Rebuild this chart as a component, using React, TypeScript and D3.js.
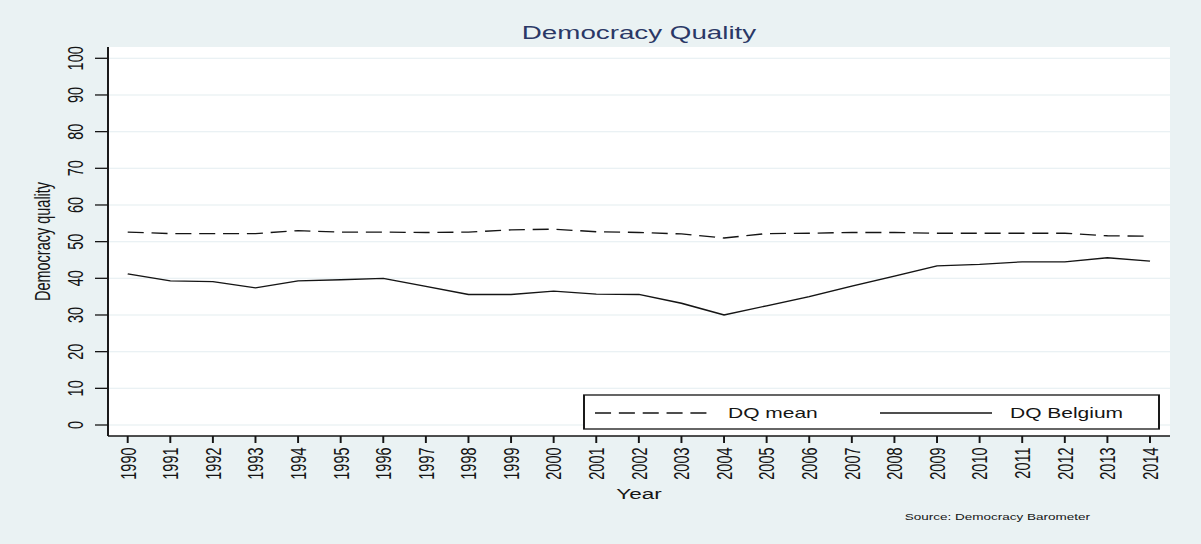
import React from 'react';
import * as d3 from 'd3';

// Democracy Barometer: overall democracy quality, 1990-2014
const years = [
  1990, 1991, 1992, 1993, 1994, 1995, 1996, 1997, 1998, 1999, 2000, 2001, 2002,
  2003, 2004, 2005, 2006, 2007, 2008, 2009, 2010, 2011, 2012, 2013, 2014,
];
const dqMean = [
  52.6, 52.2, 52.2, 52.2, 53.0, 52.6, 52.6, 52.5, 52.6, 53.2, 53.4, 52.7, 52.5,
  52.1, 51.0, 52.2, 52.3, 52.5, 52.5, 52.3, 52.3, 52.3, 52.3, 51.6, 51.5,
];
const dqBelgium = [
  41.2, 39.3, 39.1, 37.4, 39.3, 39.6, 40.0, 37.8, 35.6, 35.6, 36.5, 35.7, 35.6,
  33.2, 30.0, 32.5, 35.0, 37.9, 40.6, 43.4, 43.8, 44.5, 44.5, 45.6, 44.7,
];
const yTicks = [0, 10, 20, 30, 40, 50, 60, 70, 80, 90, 100];
const seriesLabels = ['DQ mean', 'DQ Belgium'];
const titleText = 'Democracy Quality';
const yTitle = 'Democracy quality';
const xTitle = 'Year';
const noteText = 'Source: Democracy Barometer';

// The graph is laid out on a narrower canvas and stretched horizontally.
const W = 1201;
const H = 544;
const S = 1.5;
const VW = W / S;
const hx = (px: number) => px / S;

const BG = '#eaf2f3';
const GRID = '#e3edf0';
const INK = '#151515';
const FONT = "'Liberation Sans', Arial, Helvetica, sans-serif";
const DASH = '10.7 5.2';

export default function App() {
  const plot = { left: hx(108), right: hx(1170), top: 47, bottom: 436 };

  const x = d3.scaleLinear().domain([1990, 2014]).range([hx(127.7), hx(1150)]);
  const y = d3.scaleLinear().domain([0, 100]).range([425, 58.3]);

  const line = d3
    .line<number>()
    .x((_, i) => x(years[i]))
    .y((d) => y(d));

  const legend = { left: hx(584), right: hx(1159), top: 395, bottom: 429 };
  const legendY = 413;

  return (
    <svg
      width={W}
      height={H}
      viewBox={`0 0 ${VW} ${H}`}
      preserveAspectRatio="none"
      style={{ position: 'absolute', left: 0, top: 0, display: 'block' }}
      fontFamily={FONT}
    >
      <rect x={0} y={0} width={VW} height={H} fill={BG} />

      {/* title */}
      <text
        x={(plot.left + plot.right) / 2}
        y={39.5}
        textAnchor="middle"
        fontSize={18.5}
        fill="#2a3866"
      >
        {titleText}
      </text>

      {/* plot region */}
      <rect
        x={plot.left}
        y={plot.top}
        width={plot.right - plot.left}
        height={plot.bottom - plot.top}
        fill="#ffffff"
      />

      {/* gridlines */}
      {yTicks.map((t) => (
        <line
          key={`g${t}`}
          x1={plot.left}
          x2={plot.right}
          y1={y(t)}
          y2={y(t)}
          stroke={GRID}
          strokeWidth={1}
        />
      ))}

      {/* series */}
      <path
        d={line(dqMean) || ''}
        fill="none"
        stroke={INK}
        strokeWidth={1.35}
        strokeDasharray={DASH}
      />
      <path d={line(dqBelgium) || ''} fill="none" stroke={INK} strokeWidth={1.35} />

      {/* legend */}
      <rect
        x={legend.left}
        y={legend.top}
        width={legend.right - legend.left}
        height={legend.bottom - legend.top}
        fill="#ffffff"
        stroke={INK}
        strokeWidth={1.3}
      />
      <line
        x1={hx(595)}
        x2={hx(712)}
        y1={legendY}
        y2={legendY}
        stroke={INK}
        strokeWidth={1.35}
        strokeDasharray={DASH}
      />
      <text x={hx(728)} y={legendY + 5} fontSize={14} fill={INK}>
        {seriesLabels[0]}
      </text>
      <line
        x1={hx(880)}
        x2={hx(992)}
        y1={legendY}
        y2={legendY}
        stroke={INK}
        strokeWidth={1.35}
      />
      <text x={hx(1010)} y={legendY + 5} fontSize={14} fill={INK}>
        {seriesLabels[1]}
      </text>

      {/* y axis */}
      <line
        x1={plot.left}
        x2={plot.left}
        y1={plot.top}
        y2={plot.bottom}
        stroke={INK}
        strokeWidth={1.3}
      />
      {yTicks.map((t) => (
        <g key={`y${t}`}>
          <line
            x1={hx(95)}
            x2={plot.left}
            y1={y(t)}
            y2={y(t)}
            stroke={INK}
            strokeWidth={1.3}
          />
          <text
            transform={`translate(${hx(83)},${y(t)}) rotate(-90)`}
            textAnchor="middle"
            fontSize={14.5}
            fill={INK}
          >
            {t}
          </text>
        </g>
      ))}
      <text
        transform={`translate(${hx(50)},${(plot.top + plot.bottom) / 2}) rotate(-90)`}
        textAnchor="middle"
        fontSize={14.5}
        fill={INK}
      >
        {yTitle}
      </text>

      {/* x axis */}
      <line
        x1={plot.left}
        x2={plot.right}
        y1={plot.bottom}
        y2={plot.bottom}
        stroke={INK}
        strokeWidth={1.4}
      />
      {years.map((yr) => (
        <g key={`x${yr}`}>
          <line
            x1={x(yr)}
            x2={x(yr)}
            y1={plot.bottom}
            y2={plot.bottom + 7}
            stroke={INK}
            strokeWidth={1.3}
          />
          <text
            transform={`translate(${x(yr)},${plot.bottom + 11.5}) rotate(-90)`}
            textAnchor="end"
            dy="0.36em"
            fontSize={14.5}
            fill={INK}
          >
            {yr}
          </text>
        </g>
      ))}
      <text
        x={(plot.left + plot.right) / 2}
        y={499.5}
        textAnchor="middle"
        fontSize={15}
        fill={INK}
      >
        {xTitle}
      </text>

      {/* note */}
      <text x={hx(1090)} y={520} textAnchor="end" fontSize={9} fill={INK}>
        {noteText}
      </text>
    </svg>
  );
}
